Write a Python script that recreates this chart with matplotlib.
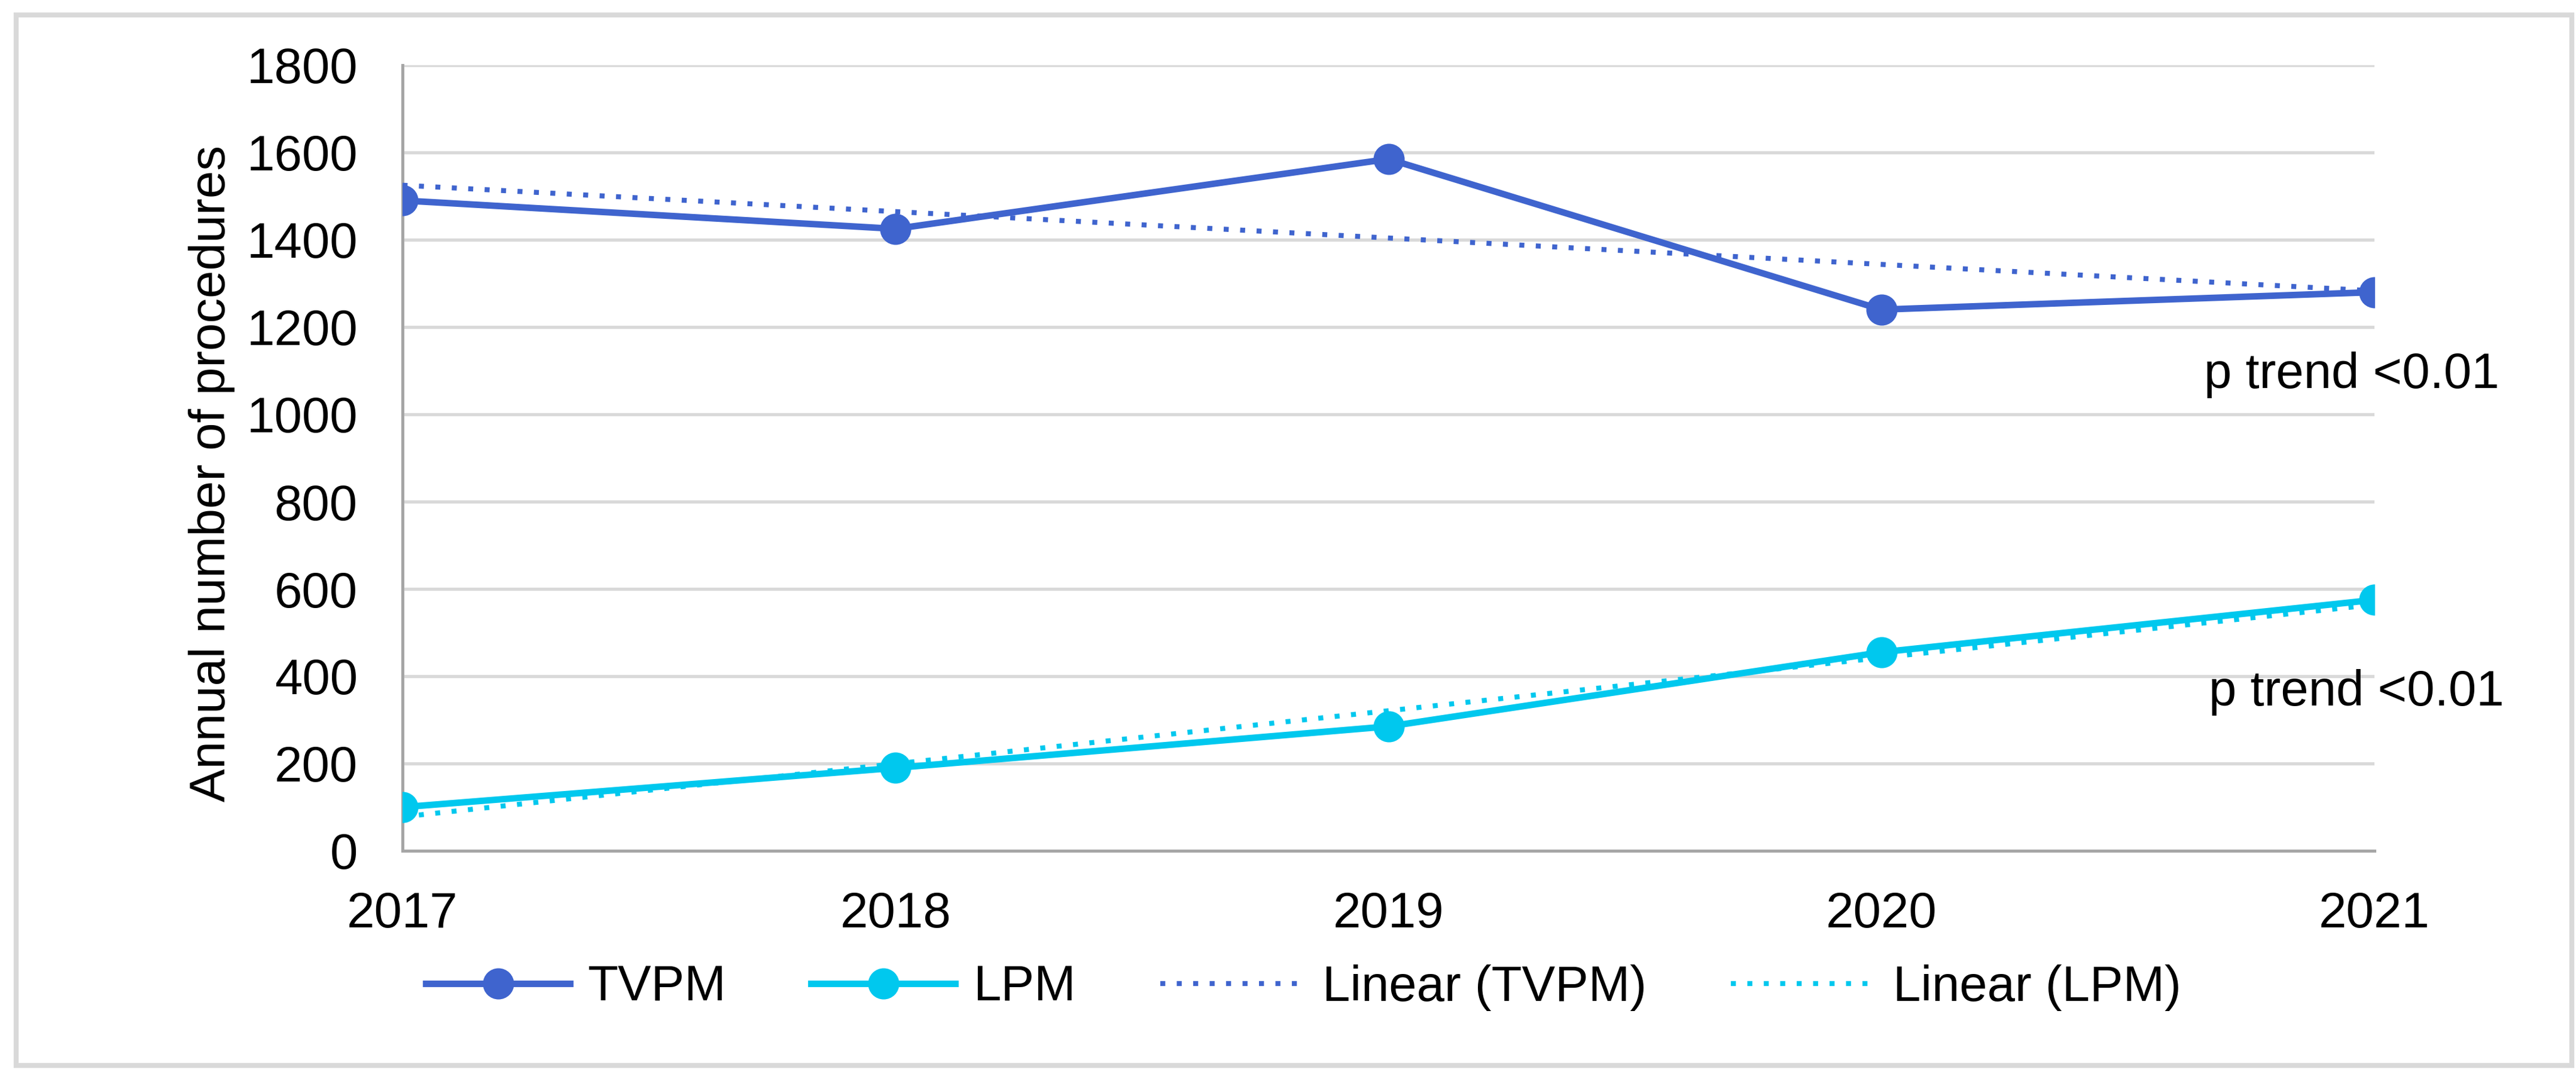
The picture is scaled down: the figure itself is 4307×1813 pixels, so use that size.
import numpy as np
import matplotlib
matplotlib.use("Agg")
import matplotlib.pyplot as plt
import matplotlib.patches as patches

plt.rcParams['font.family'] = ['Liberation Sans', 'DejaVu Sans']

years = [2017, 2018, 2019, 2020, 2021]
tvpm = [1490, 1425, 1585, 1240, 1280]
lpm = [100, 190, 285, 455, 575]
y_ticks = [0, 200, 400, 600, 800, 1000, 1200, 1400, 1600, 1800]
p_text = "p trend <0.01"

c_tvpm = '#3F64CE'
c_lpm = '#00C8EE'

W, H, DPI = 4307, 1813, 300
fig = plt.figure(figsize=(W / DPI, H / DPI), dpi=DPI)
# axes box in pixels: x 673..3970, y 109..1423
ax = fig.add_axes([673 / W, 1 - 1423 / H, (3970 - 673) / W, (1423 - 109) / H])

# outer frame
fig.patches.append(patches.Rectangle((27 / W, 1 - 1782 / H), (4300 - 27) / W, (1782 - 25) / H,
                                     transform=fig.transFigure, fill=False,
                                     edgecolor='#D9D9D9', lw=2.0, zorder=0))

x = np.array(years, dtype=float)
ax.plot(x, tvpm, color=c_tvpm, lw=2.6, marker='o', ms=11.5, label='TVPM', zorder=3)
ax.plot(x, lpm, color=c_lpm, lw=2.6, marker='o', ms=11.5, label='LPM', zorder=3)

# linear trend lines
for vals, col, name in [(tvpm, c_tvpm, 'Linear (TVPM)'), (lpm, c_lpm, 'Linear (LPM)')]:
    k, b = np.polyfit(x, vals, 1)
    ax.plot(x, k * x + b, color=col, lw=2.0, linestyle=(0, (1, 2.3)), label=name, zorder=4)

ax.set_xlim(2017, 2021)
ax.set_ylim(0, 1800)
ax.set_xticks(years)
ax.set_yticks(y_ticks)
ax.tick_params(axis='both', length=0, labelsize=20)
ax.tick_params(axis='x', pad=16)
ax.tick_params(axis='y', pad=18)
ax.yaxis.grid(True, color='#D9D9D9', lw=1.3)
ax.set_axisbelow(True)
for s in ['top', 'right']:
    ax.spines[s].set_visible(False)
for s in ['left', 'bottom']:
    ax.spines[s].set_color('#A6A6A6')
    ax.spines[s].set_linewidth(1.2)

ax.set_ylabel('Annual number of procedures', fontsize=20)
ax.yaxis.set_label_coords(-0.085, 0.48)

# p-trend notes, positions in pixels
for px, py in [(3685, 627), (3693, 1158)]:
    fig.text(px / W, 1 - py / H, p_text, fontsize=20, va='center', ha='left')

fig.legend(loc='center', bbox_to_anchor=(0.506, 1 - 1652 / H), ncol=4, frameon=False,
           fontsize=20, handlelength=2.9, handletextpad=0.35, columnspacing=1.7)

fig.savefig('out.png', dpi=DPI, facecolor='white')
